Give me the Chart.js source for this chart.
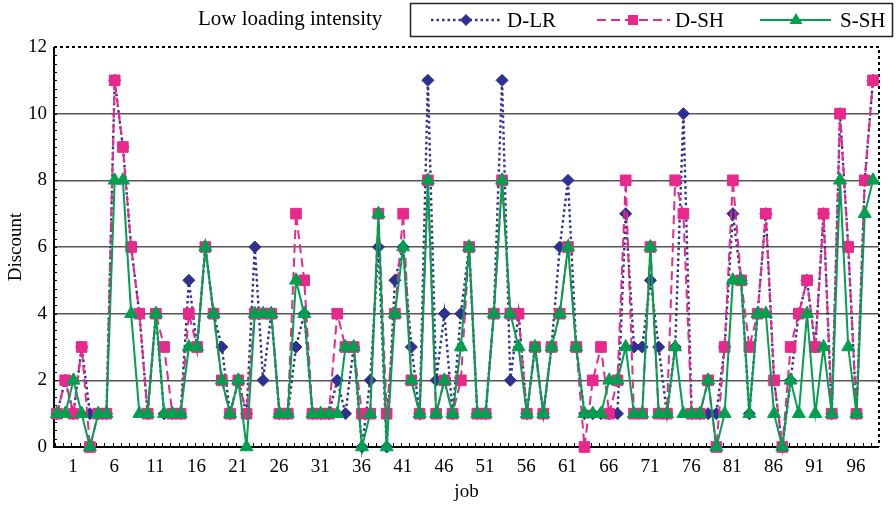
<!DOCTYPE html>
<html>
<head>
<meta charset="utf-8">
<script src="https://cdn.jsdelivr.net/npm/chart.js@4.4.0/dist/chart.umd.min.js"></script>
<style>
  html, body { margin: 0; padding: 0; background: #fff; }
  #wrap { position: relative; width: 896px; height: 507px; }
  #chart { position: absolute; left: 0; top: 0; }
  #legend { position: absolute; left: 0; top: 0; font-family: 'Liberation Serif', 'Times New Roman', serif; }
</style>
</head>
<body>
<div id="wrap">
  <canvas id="chart" width="896" height="507"></canvas>
  <svg id="legend" width="896" height="42">
    <text x="198" y="25" font-size="21" fill="#000">Low loading intensity</text>
    <rect x="410.5" y="3.5" width="482" height="33" fill="#fff" stroke="#222" stroke-width="1.5"/>
    <line x1="431" y1="20" x2="501" y2="20" stroke="#2e3192" stroke-width="2.5" stroke-dasharray="2.5 3"/>
    <polygon points="466,14 472,20 466,26 460,20" fill="#2e3192"/>
    <text x="507" y="27" font-size="21" fill="#000">D-LR</text>
    <line x1="597" y1="20" x2="670" y2="20" stroke="#e8288c" stroke-width="2" stroke-dasharray="9 5"/>
    <rect x="628" y="15" width="10" height="10" fill="#e8288c"/>
    <text x="675" y="27" font-size="21" fill="#000">D-SH</text>
    <line x1="760" y1="20" x2="831" y2="20" stroke="#00a04f" stroke-width="2"/>
    <polygon points="796,13 802.5,24 789.5,24" fill="#00a04f"/>
    <text x="840" y="27" font-size="21" fill="#000">S-SH</text>
  </svg>
</div>
<script>
// job numbers (x categories)
const jobs = [1, 2, 3, 4, 5, 6, 7, 8, 9, 10, 11, 12, 13, 14, 15, 16, 17, 18, 19, 20,
  21, 22, 23, 24, 25, 26, 27, 28, 29, 30, 31, 32, 33, 34, 35, 36, 37, 38, 39, 40,
  41, 42, 43, 44, 45, 46, 47, 48, 49, 50, 51, 52, 53, 54, 55, 56, 57, 58, 59, 60,
  61, 62, 63, 64, 65, 66, 67, 68, 69, 70, 71, 72, 73, 74, 75, 76, 77, 78, 79, 80,
  81, 82, 83, 84, 85, 86, 87, 88, 89, 90, 91, 92, 93, 94, 95, 96, 97, 98, 99, 100];

// discount per job
const dlr = [1, 2, 1, 3, 1, 1, 1, 11, 9, 6, 4, 1, 4, 1, 1, 1, 5, 3, 6, 4,
  3, 1, 2, 1, 6, 2, 4, 1, 1, 3, 4, 1, 1, 1, 2, 1, 3, 0, 2, 6,
  0, 5, 6, 3, 1, 11, 2, 4, 1, 4, 6, 1, 1, 4, 11, 2, 4, 1, 3, 1,
  3, 6, 8, 3, 1, 1, 1, 1, 1, 7, 3, 3, 5, 3, 1, 3, 10, 1, 1, 1,
  1, 3, 7, 5, 1, 4, 7, 2, 0, 2, 4, 5, 3, 7, 1, 10, 6, 1, 8, 11];

const dsh = [1, 2, 1, 3, 0, 1, 1, 11, 9, 6, 4, 1, 4, 3, 1, 1, 4, 3, 6, 4,
  2, 1, 2, 1, 4, 4, 4, 1, 1, 7, 5, 1, 1, 1, 4, 3, 3, 1, 1, 7,
  1, 4, 7, 2, 1, 8, 1, 2, 1, 2, 6, 1, 1, 4, 8, 4, 4, 1, 3, 1,
  3, 4, 6, 3, 0, 2, 3, 1, 2, 8, 1, 1, 6, 1, 1, 8, 7, 1, 1, 2,
  0, 3, 8, 5, 3, 4, 7, 2, 0, 3, 4, 5, 3, 7, 1, 10, 6, 1, 8, 11];

const ssh = [1, 1, 2, 1, 0, 1, 1, 8, 8, 4, 1, 1, 4, 1, 1, 1, 3, 3, 6, 4,
  2, 1, 2, 0, 4, 4, 4, 1, 1, 5, 4, 1, 1, 1, 1, 3, 3, 0, 1, 7,
  0, 4, 6, 2, 1, 8, 1, 2, 1, 3, 6, 1, 1, 4, 8, 4, 3, 1, 3, 1,
  3, 4, 6, 3, 1, 1, 1, 2, 2, 3, 1, 1, 6, 1, 1, 3, 1, 1, 1, 2,
  0, 1, 5, 5, 1, 4, 4, 1, 0, 2, 1, 4, 1, 3, 1, 8, 3, 1, 7, 8];

// tick labels
const xTickLabels = [1, 6, 11, 16, 21, 26, 31, 36, 41, 46, 51, 56, 61, 66, 71, 76, 81, 86, 91, 96];
const yTickLabels = [0, 2, 4, 6, 8, 10, 12];

const BLUE = '#2e3192';
const PINK = '#e8288c';
const GREEN = '#00a04f';

function points(values) {
    return jobs.map(function(j, k) { return { x: j, y: values[k] }; });
}

// cadre : gauche/bas pleins, haut/droite en pointillés, petites graduations
const framePlugin = {
    id: 'frame',
    beforeDatasetsDraw(chart) {
        const ctx = chart.ctx;
        const a = chart.chartArea;
        const x = chart.scales.x;
        const y = chart.scales.y;
        ctx.save();
        ctx.strokeStyle = '#000';
        ctx.lineWidth = 1;
        ctx.beginPath();
        jobs.forEach(function(j) {
            const px = Math.round(x.getPixelForValue(j) - 2) + 0.5;
            ctx.moveTo(px, a.bottom);
            ctx.lineTo(px, a.bottom - 4);
        });
        for (let v = 0; v <= 12; v += 0.25) {
            const py = Math.round(y.getPixelForValue(v)) + 0.5;
            ctx.moveTo(a.left, py);
            ctx.lineTo(a.left + 3, py);
        }
        ctx.stroke();
        ctx.lineWidth = 2;
        ctx.beginPath();
        ctx.moveTo(a.left, a.top);
        ctx.lineTo(a.left, a.bottom);
        ctx.lineTo(a.right, a.bottom);
        ctx.stroke();
        ctx.setLineDash([3, 3]);
        ctx.beginPath();
        ctx.moveTo(a.left, a.top);
        ctx.lineTo(a.right, a.top);
        ctx.lineTo(a.right, a.bottom);
        ctx.stroke();
        ctx.restore();
    }
};

Chart.defaults.font.family = "'Liberation Serif', 'Times New Roman', serif";
Chart.defaults.color = '#000';

new Chart(document.getElementById('chart').getContext('2d'), {
    type: 'line',
    data: {
        datasets: [{
            label: 'D-LR',
            data: points(dlr),
            order: 3,
            borderColor: BLUE,
            backgroundColor: BLUE,
            borderWidth: 2.4,
            borderDash: [2.5, 3],
            pointStyle: 'rectRot',
            pointRadius: 6,
            pointBorderWidth: 1,
            clip: false
        }, {
            label: 'D-SH',
            data: points(dsh),
            order: 2,
            borderColor: PINK,
            backgroundColor: PINK,
            borderWidth: 2,
            borderDash: [9, 5],
            pointStyle: 'rect',
            pointRadius: 7.5,
            pointBorderWidth: 1,
            clip: false
        }, {
            label: 'S-SH',
            data: points(ssh),
            order: 1,
            borderColor: GREEN,
            backgroundColor: GREEN,
            borderWidth: 2,
            pointStyle: 'triangle',
            pointRadius: 7.5,
            pointBorderWidth: 1,
            clip: false
        }]
    },
    options: {
        responsive: false,
        animation: false,
        layout: { padding: { top: 47, right: 17, left: 0, bottom: 0 } },
        plugins: {
            legend: { display: false },
            tooltip: { enabled: false }
        },
        elements: { line: { tension: 0 } },
        scales: {
            x: {
                type: 'linear',
                min: 0.64,
                max: 100.73,
                afterFit: function(s) { s.height = 60; },
                afterBuildTicks: function(s) {
                    s.ticks = xTickLabels.map(function(v) { return { value: v }; });
                },
                grid: { display: false, drawTicks: false },
                border: { display: false },
                ticks: {
                    autoSkip: false,
                    maxRotation: 0,
                    labelOffset: 16,
                    padding: 9,
                    font: { size: 19 }
                },
                title: {
                    display: true,
                    text: 'job',
                    font: { size: 19 },
                    padding: { top: 0, bottom: 4 }
                }
            },
            y: {
                min: 0,
                max: 12,
                afterFit: function(s) { s.width = 54; },
                afterBuildTicks: function(s) {
                    s.ticks = yTickLabels.map(function(v) { return { value: v }; });
                },
                grid: {
                    drawTicks: false,
                    lineWidth: 1.5,
                    color: function(c) {
                        const v = c.tick && c.tick.value;
                        return (v === 0 || v === 12) ? 'rgba(0,0,0,0)' : '#555';
                    }
                },
                border: { display: false },
                ticks: { padding: 7, font: { size: 19 } },
                title: {
                    display: true,
                    text: 'Discount',
                    font: { size: 19 },
                    padding: { top: 5, bottom: 0 }
                }
            }
        }
    },
    plugins: [framePlugin]
});
</script>
</body>
</html>
